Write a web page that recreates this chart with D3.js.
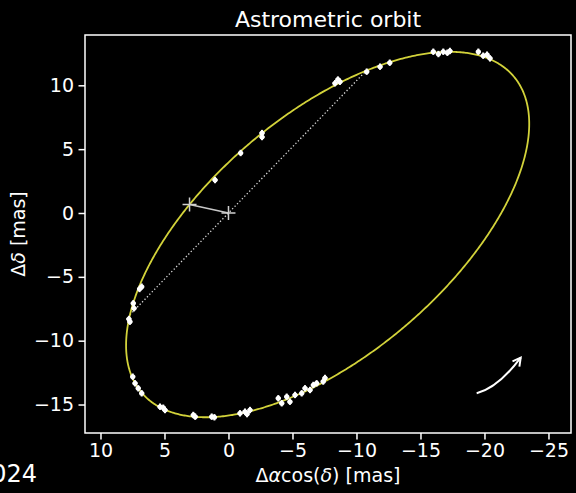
<!DOCTYPE html>
<html>
<head>
<meta charset="utf-8">
<script src="https://cdn.jsdelivr.net/npm/d3@7"></script>
<style>
  html, body { margin: 0; padding: 0; background: #000; }
  svg { display: block; }
  text { font-family: "DejaVu Sans", sans-serif; fill: #fff; }
</style>
</head>
<body>
<svg id="chart" width="576" height="493"></svg>
<script>
// Photocentre orbit, Thiele–Innes form (mas)
const eccentricity = 0.718;
const thieleX = [10.79, 16.48];   // A, F  -> Δα cosδ
const thieleY = [2.35, -20.28];   // B, G  -> Δδ
const nodePA = 136;               // position angle of the line of nodes (deg)

// Individual astrometric measurements (mas)
const obsX = [1.05, -0.95, -2.62, -2.62,
  -8.32, -8.55, -8.71, -10.8, -11.84, -12.6,
  -16.0, -16.4, -16.78, -17.1, -17.3, -19.52, -19.9, -20.2, -20.43,
  6.78, 6.95, 7.44, 7.38, 7.7, 7.78, 7.48, 7.3, 7.05, 6.78, 5.35, 4.96, 5.1,
  2.75, 2.6, 1.31, 1.1, -0.9, -1.29, -1.68, -1.45,
  -3.89, -4.16, -4.55, -4.8, -5.2, -5.72, -5.98, -6.37, -6.63, -6.89, -7.4, -7.54];
const obsY = [2.58, 4.7, 5.95, 6.26,
  10.16, 10.45, 10.28, 11.07, 11.46, 11.77,
  12.63, 12.45, 12.63, 12.55, 12.69, 12.63, 12.32, 12.4, 12.11,
  -5.77, -5.95, -7.07, -7.46, -8.51, -8.3, -12.82, -13.34, -13.73, -14.12, -15.17, -15.43, -15.25,
  -15.82, -15.95, -15.95, -16.0, -15.69, -15.56, -15.43, -15.75,
  -14.51, -14.9, -14.39, -14.78, -14.25, -14.12, -13.73, -13.86, -13.47, -13.34, -13.2, -12.92];
const obsSigma = [0.2, 0.25];     // σ(Δα cosδ), σ(Δδ)

// Direction-of-motion arrow: start, control, end (mas)
const motionArrow = [[-19.39, -14.12], [-21.05, -13.7], [-22.83, -11.33]];

const xTicks = [10, 5, 0, -5, -10, -15, -20, -25];
const yTicks = [10, 5, 0, -5, -10, -15];
const xLimits = [11.21, -26.76];
const yLimits = [-17.23, 13.94];

const plot = { left: 85, top: 35, right: 571, bottom: 433 };
const svg = d3.select("#chart");

const x = d3.scaleLinear().domain(xLimits).range([plot.left, plot.right]);
const y = d3.scaleLinear().domain(yLimits).range([plot.bottom, plot.top]);

const fmt = d => d < 0 ? "\u2212" + Math.abs(d) : String(d);

// Orbit position at eccentric anomaly E
const sq = Math.sqrt(1 - eccentricity * eccentricity);
function orbitPos(E) {
  const c = Math.cos(E) - eccentricity, s = sq * Math.sin(E);
  return [thieleX[0] * c + thieleX[1] * s, thieleY[0] * c + thieleY[1] * s];
}

const orbitPts = d3.range(0, 721).map(i => orbitPos(i / 720 * 2 * Math.PI));

// Line of nodes: where the orbit crosses the nodal line through the origin
const om = nodePA * Math.PI / 180;
const ux = Math.sin(om), uy = Math.cos(om);
const crossF = E => { const p = orbitPos(E); return p[0] * uy - p[1] * ux; };
const nodes = [];
const N = 2000;
for (let i = 0; i < N; i++) {
  let a = i / N * 2 * Math.PI, b = (i + 1) / N * 2 * Math.PI;
  let fa = crossF(a), fb = crossF(b);
  if (fa === 0 || fa * fb < 0) {
    for (let k = 0; k < 40; k++) {
      const m = (a + b) / 2, fm = crossF(m);
      if (fa * fm <= 0) { b = m; fb = fm; } else { a = m; fa = fm; }
    }
    nodes.push(orbitPos((a + b) / 2));
  }
}

const g = svg.append("g");

// nodal line
g.append("line")
  .attr("x1", x(nodes[0][0])).attr("y1", y(nodes[0][1]))
  .attr("x2", x(nodes[1][0])).attr("y2", y(nodes[1][1]))
  .attr("stroke", "#d8d8d8").attr("stroke-width", 1.3)
  .attr("stroke-dasharray", "1.3 2.2");

// orbit
g.append("path")
  .datum(orbitPts)
  .attr("d", d3.line().x(d => x(d[0])).y(d => y(d[1])))
  .attr("fill", "none").attr("stroke", "#d2d23a").attr("stroke-width", 1.8);

// periastron to barycentre
const peri = orbitPos(0);
g.append("line")
  .attr("x1", x(peri[0])).attr("y1", y(peri[1]))
  .attr("x2", x(0)).attr("y2", y(0))
  .attr("stroke", "#c8c8c8").attr("stroke-width", 1.6);

g.selectAll("path.plus")
  .data([peri, [0, 0]])
  .join("path")
  .attr("class", "plus")
  .attr("transform", d => `translate(${x(d[0])},${y(d[1])})`)
  .attr("d", "M-7,0H7M0,-7V7")
  .attr("stroke", "#cfcfcf").attr("stroke-width", 1.5);

// measurements with error bars
const obs = obsX.map((v, i) => [v, obsY[i]]);
const og = g.append("g").attr("stroke", "#fff").attr("stroke-width", 2);
og.selectAll("line.ex").data(obs).join("line")
  .attr("x1", d => x(d[0] - obsSigma[0])).attr("x2", d => x(d[0] + obsSigma[0]))
  .attr("y1", d => y(d[1])).attr("y2", d => y(d[1]));
og.selectAll("line.ey").data(obs).join("line")
  .attr("x1", d => x(d[0])).attr("x2", d => x(d[0]))
  .attr("y1", d => y(d[1] - obsSigma[1])).attr("y2", d => y(d[1] + obsSigma[1]));
g.append("g").selectAll("circle").data(obs).join("circle")
  .attr("cx", d => x(d[0])).attr("cy", d => y(d[1])).attr("r", 2.5)
  .attr("fill", "#fff");

// direction of motion
const ap = motionArrow.map(p => [x(p[0]), y(p[1])]);
g.append("path")
  .attr("d", `M${ap[0][0]},${ap[0][1]}Q${ap[1][0]},${ap[1][1]} ${ap[2][0]},${ap[2][1]}`)
  .attr("fill", "none").attr("stroke", "#fff").attr("stroke-width", 2);
const ang = Math.atan2(ap[2][1] - ap[1][1], ap[2][0] - ap[1][0]);
const hl = 9, ha = 0.5;
g.append("path")
  .attr("d", `M${ap[2][0] - hl * Math.cos(ang - ha)},${ap[2][1] - hl * Math.sin(ang - ha)}` +
             `L${ap[2][0]},${ap[2][1]}` +
             `L${ap[2][0] - hl * Math.cos(ang + ha)},${ap[2][1] - hl * Math.sin(ang + ha)}`)
  .attr("fill", "none").attr("stroke", "#fff").attr("stroke-width", 2)
  .attr("stroke-linejoin", "miter");

// axes
const xAxis = svg.append("g")
  .attr("transform", `translate(0,${plot.bottom})`)
  .call(d3.axisBottom(x).tickValues(xTicks).tickFormat(fmt).tickSize(6.5).tickPadding(4.5));
const yAxis = svg.append("g")
  .attr("transform", `translate(${plot.left},0)`)
  .call(d3.axisLeft(y).tickValues(yTicks).tickFormat(fmt).tickSize(6.5).tickPadding(4.5));
[xAxis, yAxis].forEach(a => {
  a.select(".domain").remove();
  a.selectAll(".tick line").attr("stroke", "#fff").attr("stroke-width", 1.5);
  a.selectAll(".tick text").attr("fill", "#fff")
    .style("font-family", '"DejaVu Sans", sans-serif').style("font-size", "19px");
});

svg.append("rect")
  .attr("x", plot.left).attr("y", plot.top)
  .attr("width", plot.right - plot.left).attr("height", plot.bottom - plot.top)
  .attr("fill", "none").attr("stroke", "#fff").attr("stroke-width", 1.5);

// titles
svg.append("text")
  .attr("x", (plot.left + plot.right) / 2).attr("y", 27)
  .attr("text-anchor", "middle").style("font-size", "22px")
  .text("Astrometric orbit");

const xl = svg.append("text")
  .attr("x", (plot.left + plot.right) / 2).attr("y", 482)
  .attr("text-anchor", "middle").style("font-size", "19px");
xl.append("tspan").text("\u0394");
xl.append("tspan").style("font-style", "italic").text("\u03b1");
xl.append("tspan").text("cos(");
xl.append("tspan").style("font-style", "italic").text("\u03b4");
xl.append("tspan").text(") [mas]");

const yl = svg.append("text")
  .attr("transform", `translate(25,${(plot.top + plot.bottom) / 2}) rotate(-90)`)
  .attr("text-anchor", "middle").style("font-size", "19px");
yl.append("tspan").text("\u0394");
yl.append("tspan").style("font-style", "italic").text("\u03b4");
yl.append("tspan").text(" [mas]");

svg.append("text")
  .attr("x", 37).attr("y", 482)
  .attr("text-anchor", "end").style("font-size", "24px")
  .attr("fill", "#eee")
  .text("2024");
</script>
</body>
</html>
